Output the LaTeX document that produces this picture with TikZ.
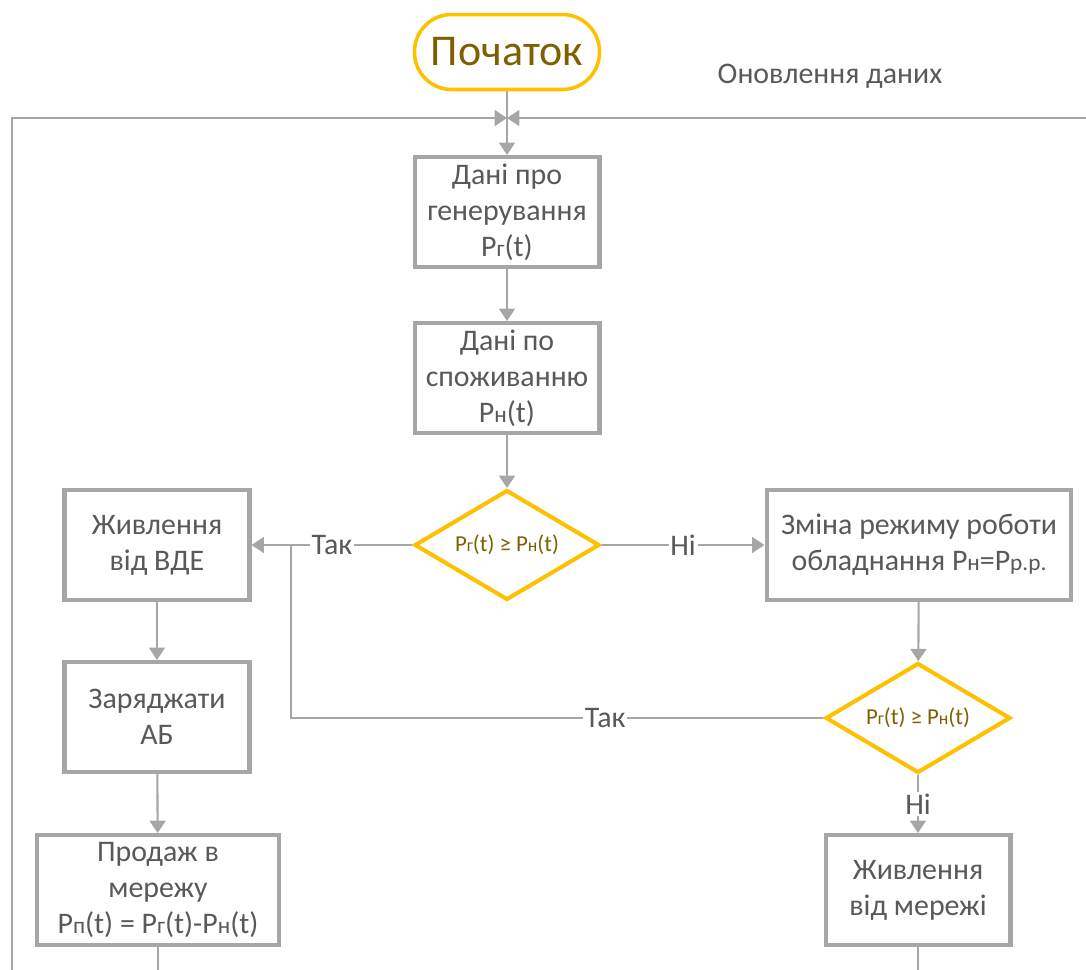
\documentclass[tikz,border=0pt]{standalone}
\usepackage{fontspec}
\setmainfont{Carlito}
\usepackage{graphicx}
\usepackage{tikz}
\usetikzlibrary{arrows.meta,calc,positioning,shapes.geometric}
\definecolor{fcgray}{HTML}{A6A6A6}
\definecolor{fctext}{HTML}{595959}
\definecolor{fcgold}{HTML}{FFC000}
\definecolor{fcgoldtext}{HTML}{7F6000}
% small letter after P
\newcommand{\psub}[1]{\scalebox{0.78}{#1}}
\tikzset{
  procbox/.style={draw=fcgray,line width=2.3pt,fill=white,text=fctext,
    align=center,minimum width=3.7cm,minimum height=2.2cm,inner sep=2pt,
    font=\fontsize{17}{20.5}\selectfont},
  decbox/.style={diamond,draw=fcgold,line width=2.3pt,fill=white,
    text=fcgoldtext,aspect=1.68,inner sep=0pt,minimum width=3.7cm,
    minimum height=2.2cm,font=\fontsize{13}{15}\selectfont},
  termbox/.style={draw=fcgold,line width=2pt,rounded corners=0.74cm,
    text=fcgoldtext,minimum width=3.7cm,minimum height=1.5cm,
    font=\fontsize{25}{28}\selectfont},
  flow/.style={draw=fcgray,line width=1.2pt,-{Triangle[length=7pt,width=9pt]}},
  link/.style={draw=fcgray,line width=1.2pt},
  lbl/.style={fill=white,text=fctext,inner sep=1pt,
    font=\fontsize{17}{20}\selectfont},
}
\begin{document}
\begin{tikzpicture}[x=0.02cm,y=-0.02cm]
\useasboundingbox (0,0) rectangle (1086,970);

% ── Start and data update loop ──────────────────────────────────
\node[termbox] (start) at (507,52) {Початок};
\node[text=fctext,font=\fontsize{17}{20}\selectfont] (upd) at (830,76)
 {Оновлення даних};
\coordinate (merge) at (507,118);
\coordinate (loopL) at (12,970);
\coordinate (loopR) at (1086,118);

% ── Input data ──────────────────────────────────────────────────
\node[procbox] (gen) at (507,212)
 {Дані про\\генерування\\P\psub{г}(t)};
\node[procbox] (cons) at (507,378)
 {Дані по\\споживанню\\P\psub{н}(t)};
\node[decbox] (chk1) at (507,545) {P\psub{г}(t) ≥ P\psub{н}(t)};

% ── Left branch: surplus ────────────────────────────────────────
\node[procbox] (res) at (157,545) {Живлення\\від ВДЕ};
\node[procbox] (chg) at (157,717) {Заряджати\\АБ};
\node[procbox,minimum width=4.84cm] (sell) at (158,890)
 {Продаж в\\мережу\\P\psub{п}(t) = P\psub{г}(t)-P\psub{н}(t)};

% ── Right branch: deficit ───────────────────────────────────────
\node[procbox,minimum width=6.1cm] (mode) at (919,545)
 {Зміна режиму роботи\\обладнання P\psub{н}=P\psub{р.р.}};
\node[decbox] (chk2) at (918,718) {P\psub{г}(t) ≥ P\psub{н}(t)};
\node[procbox] (grid) at (918,890) {Живлення\\від мережі};
\coordinate (tee) at (291,545);
\coordinate (bendB) at (291,718);

% ── Connectors ──────────────────────────────────────────────────
\draw[link] (loopL) |- (merge);
\draw[flow] (loopL |- merge) -- (merge);
\draw[flow] (loopR) -- (merge);
\draw[flow] (start) -- (gen);
\draw[flow] (gen) -- (cons);
\draw[flow] (cons) -- (chk1);
\draw[flow] (chk1) -- node[lbl] {Так} (res);
\draw[flow] (chk1) -- node[lbl] {Ні} (mode);
\draw[flow] (mode) -- (chk2);
\draw[link] (chk2) -- node[lbl,pos=0.41] {Так} (bendB) -- (tee);
\draw[flow] (chk2) -- node[lbl] {Ні} (grid);
\draw[flow] (res) -- (chg);
\draw[flow] (chg) -- (sell);
\draw[link] (sell.south) -- (sell.south |- loopL);
\draw[link] (grid.south) -- (grid.south |- loopL);
\end{tikzpicture}
\end{document}
